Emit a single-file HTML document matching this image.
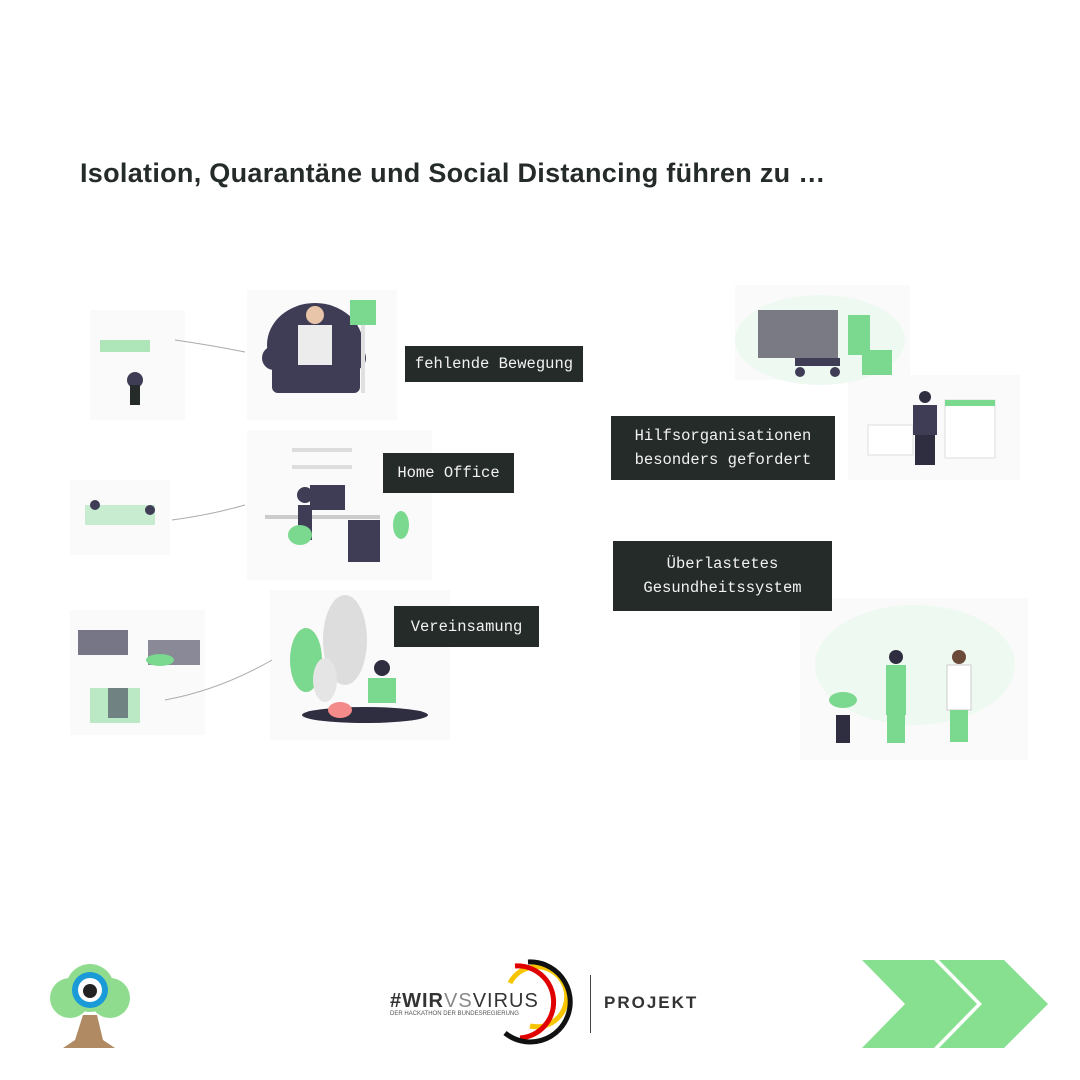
<!DOCTYPE html>
<html><head><meta charset="utf-8"><style>
body{margin:0;width:1080px;height:1080px;background:#fff;position:relative;overflow:hidden;font-family:"Liberation Sans",sans-serif}
.abs{position:absolute}
.lbl{position:absolute;background:#252b29;color:#f2f2f2;font-family:"Liberation Mono",monospace;font-size:15.5px;line-height:24px;text-align:center;display:flex;align-items:center;justify-content:center}
</style></head><body>
<div class="abs" style="left:80px;top:158px;font-size:27px;font-weight:bold;color:#252b29;letter-spacing:0.3px">Isolation, Quarantäne und Social Distancing führen zu …</div>

<svg class="abs" style="left:0;top:0" width="1080" height="1080">
<g fill="#fafafa"><rect x="90" y="310" width="95" height="110"/><rect x="247" y="290" width="150" height="130"/><rect x="70" y="480" width="100" height="75"/><rect x="247" y="430" width="185" height="150"/><rect x="70" y="610" width="135" height="125"/><rect x="270" y="590" width="180" height="150"/><rect x="735" y="285" width="175" height="95"/><rect x="848" y="375" width="172" height="105"/><rect x="800" y="598" width="228" height="162"/></g>
<g fill="none" stroke="#aaa" stroke-width="1"><path d="M175 340 Q210 345 245 352"/><path d="M172 520 Q210 515 245 505"/><path d="M165 700 Q220 690 272 660"/></g>
<ellipse cx="315" cy="345" rx="48" ry="42" fill="#3f3d56"/><rect x="272" y="345" width="88" height="48" rx="6" fill="#3f3d56"/><circle cx="274" cy="358" r="12" fill="#3f3d56"/><circle cx="354" cy="358" r="12" fill="#3f3d56"/><rect x="298" y="325" width="34" height="40" fill="#ececec"/><circle cx="315" cy="315" r="9" fill="#e8c4a8"/><rect x="350" y="300" width="26" height="25" fill="#7bd88f"/><rect x="361" y="325" width="4" height="68" fill="#e0e0e0"/>
<rect x="100" y="340" width="50" height="12" fill="#7bd88f" opacity=".6"/><circle cx="135" cy="380" r="8" fill="#3f3d56"/><rect x="130" y="385" width="10" height="20" fill="#252b29"/>
<rect x="292" y="448" width="60" height="4" fill="#ddd"/><rect x="292" y="465" width="60" height="4" fill="#ddd"/><rect x="265" y="515" width="115" height="4" fill="#ccc"/><rect x="310" y="485" width="35" height="25" fill="#3f3d56"/><rect x="348" y="520" width="32" height="42" fill="#3f3d56"/><circle cx="305" cy="495" r="8" fill="#3f3d56"/><rect x="298" y="505" width="14" height="35" fill="#3f3d56"/><ellipse cx="300" cy="535" rx="12" ry="10" fill="#7bd88f"/><ellipse cx="401" cy="525" rx="8" ry="14" fill="#7bd88f"/>
<rect x="85" y="505" width="70" height="20" fill="#7bd88f" opacity=".4"/><circle cx="95" cy="505" r="5" fill="#3f3d56"/><circle cx="150" cy="510" r="5" fill="#3f3d56"/>
<ellipse cx="306" cy="660" rx="16" ry="32" fill="#7bd88f"/><ellipse cx="345" cy="640" rx="22" ry="45" fill="#ddd"/><ellipse cx="325" cy="680" rx="12" ry="22" fill="#e5e5e5"/><ellipse cx="365" cy="715" rx="63" ry="8" fill="#2f2e41"/><circle cx="382" cy="668" r="8" fill="#2f2e41"/><rect x="368" y="678" width="28" height="25" fill="#7bd88f"/><ellipse cx="340" cy="710" rx="12" ry="8" fill="#f48a8a"/>
<rect x="78" y="630" width="50" height="25" fill="#3f3d56" opacity=".7"/><rect x="148" y="640" width="52" height="25" fill="#3f3d56" opacity=".6"/><ellipse cx="160" cy="660" rx="14" ry="6" fill="#7bd88f"/><rect x="90" y="688" width="50" height="35" fill="#7bd88f" opacity=".5"/><rect x="108" y="688" width="20" height="30" fill="#3f3d56" opacity=".6"/>
<ellipse cx="820" cy="340" rx="85" ry="45" fill="#eef9f1"/><rect x="758" y="310" width="80" height="48" fill="#7a7a85"/><rect x="795" y="358" width="45" height="8" fill="#3f3d56"/><circle cx="800" cy="372" r="5" fill="#3f3d56"/><circle cx="835" cy="372" r="5" fill="#3f3d56"/><rect x="848" y="315" width="22" height="40" fill="#7bd88f"/><rect x="862" y="350" width="30" height="25" fill="#7bd88f"/>
<rect x="868" y="425" width="45" height="30" fill="#fff" stroke="#ddd"/><rect x="945" y="400" width="50" height="58" fill="#fff" stroke="#ddd"/><rect x="945" y="400" width="50" height="6" fill="#7bd88f"/><circle cx="925" cy="397" r="6" fill="#2f2e41"/><rect x="913" y="405" width="24" height="30" fill="#3f3d56"/><rect x="915" y="435" width="20" height="30" fill="#2f2e41"/>
<ellipse cx="915" cy="665" rx="100" ry="60" fill="#eef9f1"/><rect x="886" y="665" width="20" height="50" fill="#7bd88f"/><rect x="887" y="713" width="18" height="30" fill="#7bd88f"/><circle cx="896" cy="657" r="7" fill="#2f2e41"/><rect x="947" y="665" width="24" height="45" fill="#fff" stroke="#ccc"/><circle cx="959" cy="657" r="7" fill="#6b4a3a"/><rect x="950" y="710" width="18" height="32" fill="#7bd88f"/><rect x="836" y="715" width="14" height="28" fill="#2f2e41"/><ellipse cx="843" cy="700" rx="14" ry="8" fill="#7bd88f"/>
</svg>

<div class="lbl" style="left:405px;top:346px;width:178px;height:36px">fehlende Bewegung</div>
<div class="lbl" style="left:383px;top:453px;width:131px;height:40px">Home Office</div>
<div class="lbl" style="left:394px;top:606px;width:145px;height:41px">Vereinsamung</div>
<div class="lbl" style="left:611px;top:416px;width:224px;height:64px">Hilfsorganisationen<br>besonders gefordert</div>
<div class="lbl" style="left:613px;top:541px;width:219px;height:70px">Überlastetes<br>Gesundheitssystem</div>

<svg class="abs" style="left:45px;top:960px" width="90" height="95">
<path d="M38 55 L30 80 L18 88 L70 88 L58 80 L52 55Z" fill="#b08a63"/><circle cx="25" cy="38" r="20" fill="#8fdc8f"/><circle cx="65" cy="38" r="20" fill="#8fdc8f"/><circle cx="45" cy="28" r="24" fill="#8fdc8f"/><circle cx="45" cy="30" r="18" fill="#1a9ad6"/><circle cx="45" cy="30" r="12" fill="#fff"/><circle cx="45" cy="31" r="7" fill="#222"/>
</svg>

<div class="abs" style="left:390px;top:990px;font-size:20px;color:#333;letter-spacing:1px"><b>#WIR</b><span style="color:#888">VS</span>VIRUS</div>
<div class="abs" style="left:390px;top:1011px;font-size:6px;color:#555">DER HACKATHON DER BUNDESREGIERUNG</div>
<svg class="abs" style="left:495px;top:958px" width="90" height="90" fill="none" stroke-width="5">
<path d="M15 25 A30 30 0 1 1 35 68" stroke="#f6c500"/><path d="M20 8 A35 35 0 1 1 25 80" stroke="#e10000"/><path d="M33 4 A40 40 0 1 1 10 75" stroke="#111"/>
</svg>
<div class="abs" style="left:590px;top:975px;width:1px;height:58px;background:#444"></div>
<div class="abs" style="left:604px;top:993px;font-size:17px;font-weight:bold;color:#333;letter-spacing:2px">PROJEKT</div>

<svg class="abs" style="left:862px;top:960px" width="190" height="90">
<polygon points="0,0 72,0 115,44 72,88 0,88 43,44" fill="#86e08f"/><polygon points="77,0 142,0 186,44 142,88 77,88 120,44" fill="#86e08f"/>
</svg>
</body></html>
